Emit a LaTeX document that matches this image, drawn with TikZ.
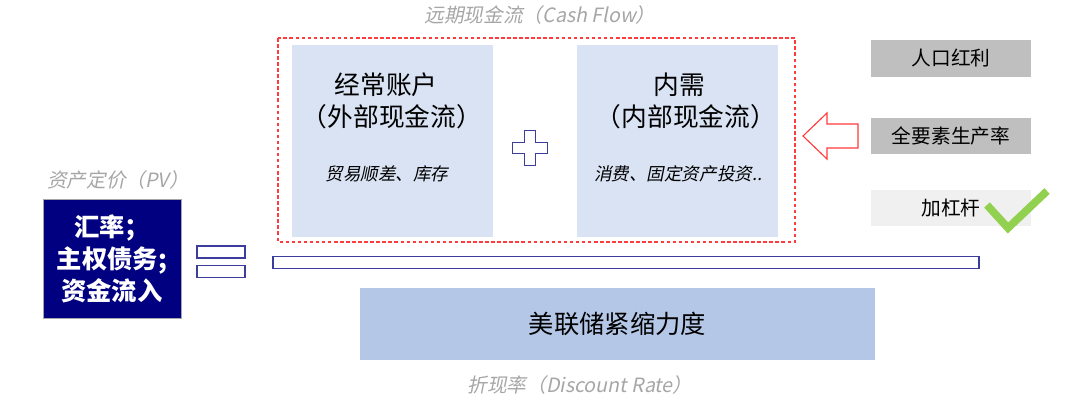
\documentclass[tikz,border=0pt]{standalone}
\usepackage{fontspec}
\setmainfont{Noto Sans CJK SC}
\newfontfamily\slantfont[FakeSlant=0.2]{Noto Sans CJK SC}
\usetikzlibrary{positioning}

\definecolor{boxblue}{HTML}{DAE3F3}
\definecolor{fedblue}{HTML}{B4C7E7}
\definecolor{navybox}{HTML}{000080}
\definecolor{barline}{HTML}{3C3C9C}
\definecolor{capgray}{HTML}{A6A6A6}
\definecolor{factgray}{HTML}{BFBFBF}
\definecolor{factlight}{HTML}{F0F0F0}
\definecolor{checkgreen}{HTML}{92D050}
\definecolor{dashred}{HTML}{FF3B3B}

\begin{document}
\begin{tikzpicture}[x=0.025cm, y=-0.025cm,
    flowbox/.style={rectangle, fill=boxblue, minimum width=5.025cm, minimum height=4.8cm, inner sep=0pt},
    headtxt/.style={anchor=base, inner sep=0pt, font=\fontsize{18.3}{22}\selectfont},
    subtxt/.style={anchor=base, inner sep=0pt, font=\slantfont\fontsize{12.5}{15}\selectfont},
    caption/.style={inner sep=0pt, text=capgray, font=\slantfont\fontsize{14}{17}\selectfont},
    pvbox/.style={rectangle, draw=gray!70, line width=0.6pt, fill=navybox, text=white, align=center, minimum width=3.45cm, minimum height=2.975cm, font=\bfseries\fontsize{18}{22.7}\selectfont},
    factbox/.style={rectangle, minimum width=4cm, minimum height=0.9cm, inner sep=0pt, font=\fontsize{14}{17}\selectfont},
    fedbox/.style={rectangle, fill=fedblue, minimum width=12.875cm, minimum height=1.8cm, font=\fontsize{18}{22}\selectfont},
    eqbar/.style={rectangle, draw=barline, line width=1.1pt, fill=white, inner sep=0pt, minimum height=0.3cm}
  ]
  \useasboundingbox (0,0) rectangle (1080,407);

  % cash flow
  \node[caption] (cfcap) at (540,15) {远期现金流（Cash Flow）};
  \draw[dashred, line width=0.8pt, dash pattern=on 2.5pt off 1.8pt] (278,38) rectangle (795,242);
  \node[flowbox] (cur) at (392.5,141) {};
  \node[flowbox] (dom) at (677.5,141) {};
  \node[headtxt] (curhead) at (386,94.8) {经常账户};
  \node[headtxt] (cursub) at (392,126.8) {（外部现金流）};
  \node[subtxt] (curitem) at (387,180) {贸易顺差、库存};
  \node[headtxt] (domhead) at (679,94.8) {内需};
  \node[headtxt] (domsub) at (686,126.8) {（内部现金流）};
  \node[subtxt] (domitem) at (678,180) {消费、固定资产投资..};
  \draw[barline, line width=1.2pt, fill=white]
    (524.5,130.5) -- (535.5,130.5) -- (535.5,142.5) -- (547.5,142.5) -- (547.5,153.5)
    -- (535.5,153.5) -- (535.5,165.5) -- (524.5,165.5) -- (524.5,153.5) -- (512.5,153.5)
    -- (512.5,142.5) -- (524.5,142.5) -- cycle;

  % present value
  \node[caption] (pvcap) at (118,180) {资产定价（PV）};
  \node[pvbox] (pv) at (112,258.5) {汇率；\\主权债务;\\资金流入};
  \node[eqbar, minimum width=1.2cm] (eqtop) at (221,252) {};
  \node[eqbar, minimum width=1.2cm, below=0.15cm of eqtop] (eqbot) {};
  \node[eqbar, minimum width=17.65cm] (bar) at (626,262.5) {};

  % discount rate
  \node[fedbox] (fed) at (617.5,324) {美联储紧缩力度};
  \node[caption] (drcap) at (580,385) {折现率（Discount Rate）};

  % drivers
  \node[factbox, fill=factgray] (pop) at (951,58.5) {人口红利};
  \node[factbox, fill=factgray, below=1.025cm of pop] (tfp) {全要素生产率};
  \node[factbox, fill=factlight, below=0.875cm of tfp] (lev) {加杠杆};
  \draw[dashred, line width=0.8pt, fill=white]
    (803,136) -- (827,113) -- (827,124) -- (858,124) -- (858,148) -- (827,148) -- (827,159) -- cycle;
  \draw[checkgreen, line width=5.5pt] (987,205) -- (1008,228) -- (1047,191);
\end{tikzpicture}
\end{document}
